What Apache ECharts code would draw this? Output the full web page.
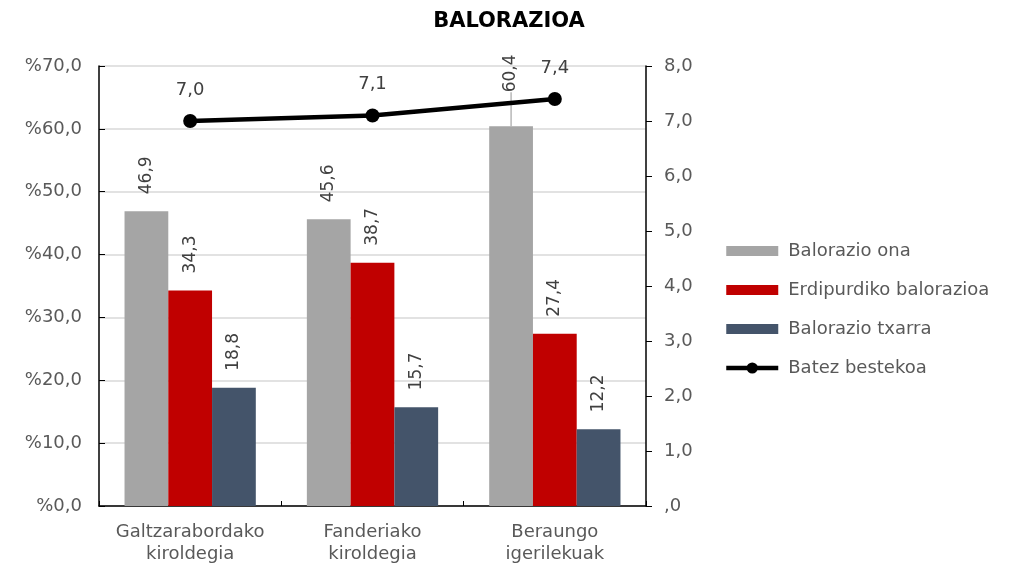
<!DOCTYPE html>
<html>
<head>
<meta charset="utf-8">
<script src="https://cdn.jsdelivr.net/npm/echarts@6/dist/echarts.min.js"></script>
<style>html,body{margin:0;padding:0;background:#fff}#c{width:1018px;height:566px}</style>
</head>
<body>
<div id="c"></div>
<script>
const categories = ['Galtzarabordako\nkiroldegia', 'Fanderiako\nkiroldegia', 'Beraungo\nigerilekuak'];
const ona = [46.9, 45.6, 60.4];
const erdipurdiko = [34.3, 38.7, 27.4];
const txarra = [18.8, 15.7, 12.2];
const batez = [7.0, 7.1, 7.4];
const seriesNames = ['Balorazio ona', 'Erdipurdiko balorazioa', 'Balorazio txarra', 'Batez bestekoa'];

const FONT = '"DejaVu Sans", Verdana, sans-serif';
const fmt = v => v.toFixed(1).replace('.', ',');
const barLabel = {
  show: true, position: 'top', rotate: 90, align: 'left', verticalAlign: 'middle',
  distance: 17, color: '#404040', fontFamily: FONT, fontSize: 17,
  formatter: p => fmt(p.value)
};
function barSeries(name, data, color, liftIndex) {
  return {
    name, type: 'bar', barGap: '0%', barCategoryGap: '28%',
    data: data.map((v, i) => i === liftIndex
      ? { value: v, label: { distance: 34 }, labelLine: { show: true, lineStyle: { color: '#a5a5a5', width: 1.2 } } }
      : v),
    itemStyle: { color }, label: barLabel,
    labelLine: { show: false }
  };
}
const RECT_ICON = 'path://M0,0 L52,0 L52,10 L0,10 Z';
const chart = echarts.init(document.getElementById('c'), null, { renderer: 'canvas' });
chart.setOption({
  animation: false,
  textStyle: { fontFamily: FONT },
  title: {
    text: 'BALORAZIOA', left: 'center', top: 6,
    textStyle: { fontFamily: FONT, fontSize: 21, fontWeight: 'bold', color: '#000' }
  },
  legend: {
    orient: 'vertical', left: 724, top: 242, padding: 0, itemWidth: 52, itemHeight: 14, itemGap: 21,
    textStyle: { fontFamily: FONT, fontSize: 18, color: '#595959', padding: [0, 0, 0, 5] },
    data: [
      { name: seriesNames[0], icon: RECT_ICON },
      { name: seriesNames[1], icon: RECT_ICON },
      { name: seriesNames[2], icon: RECT_ICON },
      { name: seriesNames[3], lineStyle: { width: 4.5, color: '#000' }, itemStyle: { color: '#000' } }
    ]
  },
  grid: { left: 99, right: 372, top: 66, bottom: 60 },
  xAxis: {
    type: 'category', data: categories,
    axisLine: { lineStyle: { color: '#000', width: 1.5 } },
    axisTick: { show: true, inside: true, length: 5, interval: 0, lineStyle: { color: '#000' } },
    axisLabel: { color: '#595959', fontFamily: FONT, fontSize: 18, margin: 15, lineHeight: 22, interval: 0 }
  },
  yAxis: [
    {
      type: 'value', min: 0, max: 70, interval: 10,
      axisLine: { show: true, lineStyle: { color: '#000', width: 1.5 } },
      axisTick: { show: true, inside: true, length: 6, lineStyle: { color: '#000' } },
      splitLine: { lineStyle: { color: '#d9d9d9', width: 1.5 } },
      axisLabel: { color: '#595959', fontFamily: FONT, fontSize: 18, margin: 17, formatter: v => '%' + fmt(v) }
    },
    {
      type: 'value', min: 0, max: 8, interval: 1,
      axisLine: { show: true, lineStyle: { color: '#000', width: 1.5 } },
      axisTick: { show: true, inside: false, length: 6, lineStyle: { color: '#000' } },
      splitLine: { show: false },
      axisLabel: { color: '#595959', fontFamily: FONT, fontSize: 18, margin: 18,
        formatter: v => { const s = fmt(v); return s.startsWith('0,') ? s.slice(1) : s; } }
    }
  ],
  series: [
    barSeries(seriesNames[0], ona, '#a5a5a5', 2),
    barSeries(seriesNames[1], erdipurdiko, '#c00000', -1),
    barSeries(seriesNames[2], txarra, '#44546a', -1),
    {
      name: seriesNames[3], type: 'line', yAxisIndex: 1, data: batez, z: 5,
      lineStyle: { color: '#000', width: 4.5 }, itemStyle: { color: '#000' },
      symbol: 'circle', symbolSize: 14,
      label: { show: true, position: 'top', distance: 15, color: '#404040', fontFamily: FONT, fontSize: 18,
        formatter: p => fmt(p.value) }
    }
  ]
});
</script>
</body>
</html>
